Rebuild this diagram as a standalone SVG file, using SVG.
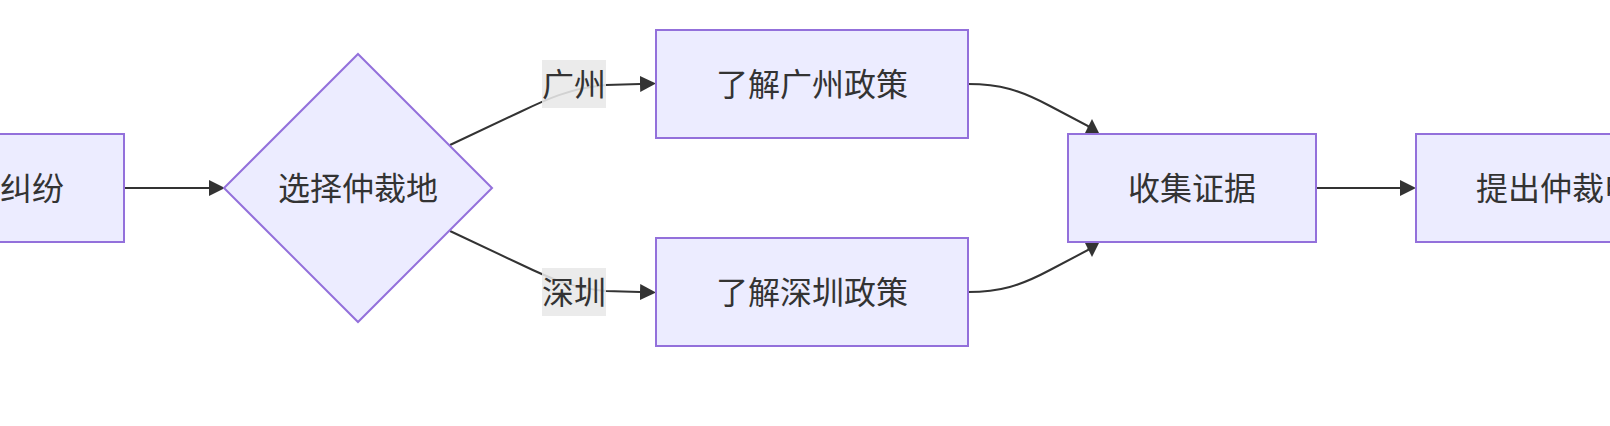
<svg xmlns="http://www.w3.org/2000/svg" width="1610" height="426" viewBox="0 0 1610 426">
<style>
.node rect, .node polygon { fill: #ECECFF; stroke: #9370DB; stroke-width: 2; }
.node text, .label text { font-family: "Noto Sans CJK SC", "Noto Sans", sans-serif; font-size: 32px; fill: #333333; dominant-baseline: central; text-anchor: middle; }
.edge { fill: none; stroke: #333333; stroke-width: 2; }
.label rect { fill: #e8e8e8; fill-opacity: 0.88; stroke: none; }
</style>
<defs>
<marker id="arrow" viewBox="0 0 10 10" refX="0" refY="5" markerUnits="userSpaceOnUse" markerWidth="16" markerHeight="16" orient="auto">
<path d="M0,0 L10,5 L0,10 z" fill="#333333"/>
</marker>
<marker id="arrowUp" viewBox="0 0 10 10" refX="0" refY="5" markerUnits="userSpaceOnUse" markerWidth="15" markerHeight="17" orient="270">
<path d="M0,0 L10,5 L0,10 z" fill="#333333"/>
</marker>
<marker id="arrowDown" viewBox="0 0 10 10" refX="0" refY="5" markerUnits="userSpaceOnUse" markerWidth="15" markerHeight="17" orient="90">
<path d="M0,0 L10,5 L0,10 z" fill="#333333"/>
</marker>
</defs>
<rect x="0" y="0" width="1610" height="426" fill="#ffffff"/>
<g id="connectors">
<path class="edge" d="M124,188 L209,188" marker-end="url(#arrow)"/>
<path class="edge" d="M450,145 L520,112 C545,100 570,88 606,85 L640,84" marker-end="url(#arrow)"/>
<path class="edge" d="M450,231 L520,264 C545,276 570,288 606,291 L640,292" marker-end="url(#arrow)"/>
<path class="edge" d="M968,84 C1000,84 1020,90 1050,106 L1088,126 L1092,134" marker-end="url(#arrowUp)"/>
<path class="edge" d="M968,292 C1000,292 1020,286 1050,270 L1088,250 L1092,242" marker-end="url(#arrowDown)"/>
<path class="edge" d="M1316,188 L1400,188" marker-end="url(#arrow)"/>
</g>
<g id="label-guangzhou" class="label">
<rect x="542" y="60" width="64" height="48"/>
<text x="574" y="82">广州</text>
</g>
<g id="label-shenzhen" class="label">
<rect x="542" y="268" width="64" height="48"/>
<text x="574" y="290">深圳</text>
</g>
<g id="node-dispute" class="node">
<rect x="-120" y="134" width="244" height="108"/>
<text x="64" y="186" style="text-anchor:end">纠纷</text>
</g>
<g id="node-choose" class="node">
<polygon points="358,54 492,188 358,322 224,188"/>
<text x="358" y="186">选择仲裁地</text>
</g>
<g id="node-gz" class="node">
<rect x="656" y="30" width="312" height="108"/>
<text x="812" y="82">了解广州政策</text>
</g>
<g id="node-sz" class="node">
<rect x="656" y="238" width="312" height="108"/>
<text x="812" y="290">了解深圳政策</text>
</g>
<g id="node-evidence" class="node">
<rect x="1068" y="134" width="248" height="108"/>
<text x="1192" y="186">收集证据</text>
</g>
<g id="node-apply" class="node">
<rect x="1416" y="134" width="312" height="108"/>
<text x="1572" y="186">提出仲裁申请</text>
</g>
</svg>
